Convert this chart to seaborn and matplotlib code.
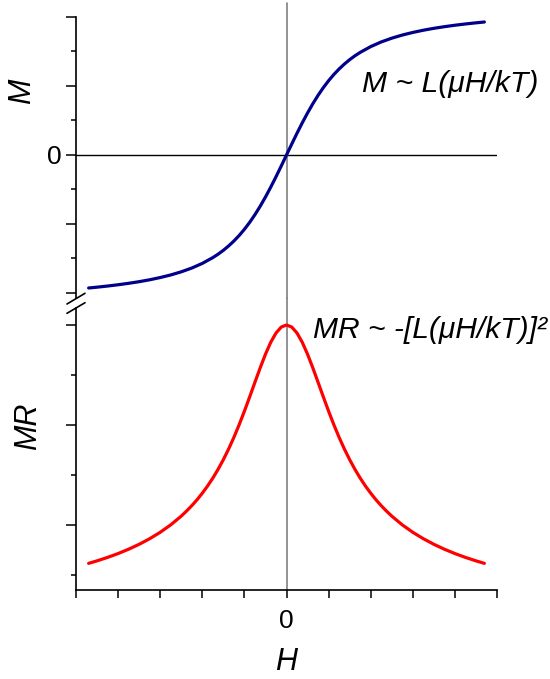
import matplotlib
matplotlib.use("Agg")
import matplotlib.pyplot as plt
from matplotlib.lines import Line2D
import seaborn as sns
import pandas as pd

# ---- data (arbitrary units, tick spacing = 1) ----
H_M = [-4.7, -4.5, -4.25, -4.0, -3.75, -3.5, -3.25, -3.0, -2.75, -2.5, -2.25,
       -2.0, -1.75, -1.625, -1.5, -1.375, -1.25, -1.125, -1.0, -0.875, -0.75,
       -0.625, -0.5, -0.375, -0.25, -0.125, 0.0,
       0.125, 0.25, 0.375, 0.5, 0.625, 0.75, 0.875, 1.0, 1.125, 1.25, 1.375,
       1.5, 1.625, 1.75, 2.0, 2.25, 2.5, 2.75,
       3.0, 3.25, 3.5, 3.75, 4.0, 4.25, 4.5, 4.7]
M_vals = [-3.855, -3.831, -3.798, -3.761, -3.719, -3.672, -3.617, -3.552, -3.477,
          -3.386, -3.277, -3.142, -2.974, -2.875, -2.763, -2.636, -2.494, -2.334,
          -2.154, -1.953, -1.730, -1.485, -1.219, -0.933, -0.632, -0.319, 0.0,
          0.319, 0.632, 0.933, 1.219, 1.485, 1.730, 1.953, 2.154, 2.334, 2.494,
          2.636, 2.763, 2.875, 2.974, 3.142, 3.277, 3.386, 3.477,
          3.552, 3.617, 3.672, 3.719, 3.761, 3.798, 3.831, 3.855]

H_MR = [-4.7, -4.5, -4.25, -4.0, -3.75, -3.5, -3.25, -3.0, -2.75, -2.5, -2.375,
        -2.25, -2.125, -2.0, -1.875, -1.75, -1.625, -1.5, -1.375, -1.25, -1.125,
        -1.0, -0.875, -0.75, -0.625, -0.5, -0.375, -0.25, -0.125, 0.0,
        0.125, 0.25, 0.375, 0.5, 0.625, 0.75, 0.875, 1.0, 1.125, 1.25, 1.375,
        1.5, 1.625, 1.75, 1.875, 2.0, 2.125, 2.25, 2.375, 2.5, 2.75, 3.0, 3.25,
        3.5, 3.75, 4.0, 4.25, 4.5, 4.7]
MR_vals = [-4.767, -4.717, -4.648, -4.571, -4.484, -4.386, -4.274, -4.146, -3.997,
           -3.822, -3.722, -3.614, -3.495, -3.364, -3.220, -3.062, -2.886, -2.693,
           -2.480, -2.248, -1.995, -1.724, -1.438, -1.146, -0.857, -0.585, -0.347,
           -0.161, -0.041, 0.0,
           -0.041, -0.161, -0.347, -0.585, -0.857, -1.146, -1.438, -1.724, -1.995,
           -2.248, -2.480, -2.693, -2.886, -3.062, -3.220, -3.364, -3.495, -3.614,
           -3.722, -3.822, -3.997, -4.146, -4.274, -4.386, -4.484, -4.571, -4.648,
           -4.717, -4.767]

x_ticks = [-5, -4, -3, -2, -1, 0, 1, 2, 3, 4, 5]
x_ticklabels = ["", "", "", "", "", "0", "", "", "", "", ""]
m_major = [-4, -2, 0, 2, 4]
m_major_labels = ["", "", "0", "", ""]
m_minor = [-3, -1, 1, 3]
mr_major = [-4, -2, 0]
mr_minor = [-5, -3, -1]

label_M = "M ~ L(μH/kT)"
label_MR = "MR ~ -[L(μH/kT)]²"

df_m = pd.DataFrame({"H": H_M, "M": M_vals})
df_mr = pd.DataFrame({"H": H_MR, "MR": MR_vals})

sns.set_style("white")
plt.rcParams["font.family"] = ["Liberation Sans", "DejaVu Sans"]
plt.rcParams["text.color"] = "black"
plt.rcParams["axes.labelcolor"] = "black"
plt.rcParams["xtick.color"] = "black"
plt.rcParams["ytick.color"] = "black"

W, Hpx = 550, 679
fig = plt.figure(figsize=(W / 100, Hpx / 100), dpi=100)
ax1 = fig.add_axes([76 / W, 1 - 298 / Hpx, 421 / W, 281 / Hpx])
ax2 = fig.add_axes([76 / W, 1 - 590 / Hpx, 421 / W, 282 / Hpx], sharex=ax1)

blue = "#00008B"
red = "#FF0000"

sns.lineplot(data=df_m, x="H", y="M", ax=ax1, color=blue, lw=2.3, zorder=3)
sns.lineplot(data=df_mr, x="H", y="MR", ax=ax2, color=red, lw=2.3, zorder=3)

for ax in (ax1, ax2):
    ax.set_xlim(-5, 5)
    for s in ("top", "right"):
        ax.spines[s].set_visible(False)
    ax.spines["left"].set_linewidth(1.2)
    ax.spines["left"].set_color("black")

ax1.spines["bottom"].set_visible(False)
ax2.spines["bottom"].set_linewidth(1.2)
ax2.spines["bottom"].set_color("black")

ax1.set_ylim(-4.145, 4.0)
ax2.set_ylim(-5.3, 0.34)

# reference lines
ax1.axhline(0, color="black", lw=1.0, zorder=2)
ax1.axvline(0, ymin=0, ymax=1 + 14 / 281, color="#808080", lw=1.2,
            clip_on=False, zorder=2)
ax2.axvline(0, ymin=0, ymax=1 + 10 / 282, color="#808080", lw=1.2,
            clip_on=False, zorder=2)

# ticks
ax1.set_yticks(m_major)
ax1.set_yticklabels(m_major_labels)
ax1.set_yticks(m_minor, minor=True)
ax1.tick_params(axis="y", which="major", direction="out", length=7.5, width=1.1,
                labelsize=19, pad=3, left=True, colors="black")
ax1.tick_params(axis="y", which="minor", direction="out", length=3.8, width=1.1,
                left=True, colors="black")
ax1.tick_params(axis="x", which="both", bottom=False, labelbottom=False)

ax2.set_yticks(mr_major)
ax2.set_yticklabels([""] * len(mr_major))
ax2.set_yticks(mr_minor, minor=True)
ax2.tick_params(axis="y", which="major", direction="out", length=7.5, width=1.1,
                left=True, colors="black")
ax2.tick_params(axis="y", which="minor", direction="out", length=3.8, width=1.1,
                left=True, colors="black")
ax2.set_xticks(x_ticks)
ax2.set_xticklabels(x_ticklabels)
ax2.tick_params(axis="x", which="major", direction="out", length=6, width=1.1,
                labelsize=19, pad=8, bottom=True, colors="black")

# axis labels
ax1.set_xlabel("")
ax1.set_ylabel("M", fontsize=22, style="italic", color="black")
ax1.yaxis.set_label_coords((37 - 76) / 421, (298 - 91) / 281)
ax2.set_ylabel("MR", fontsize=22, style="italic", color="black")
ax2.yaxis.set_label_coords((43 - 76) / 421, (590 - 426) / 282)
ax2.set_xlabel("H", fontsize=22, style="italic", labelpad=10, color="black")

# annotations
fig.text(362 / W, 1 - 92 / Hpx, label_M, fontsize=21.7, style="italic",
         ha="left", va="baseline", color="black")
fig.text(313 / W, 1 - 338 / Hpx, label_MR, fontsize=21.6, style="italic",
         ha="left", va="baseline", color="black")

# axis break marks
for (y0, y1) in [(304, 293.3), (313.3, 302.7)]:
    fig.add_artist(Line2D([67 / W, 85 / W], [1 - y0 / Hpx, 1 - y1 / Hpx],
                          transform=fig.transFigure, color="black", lw=1.2))

fig.savefig("out.png", dpi=100)
